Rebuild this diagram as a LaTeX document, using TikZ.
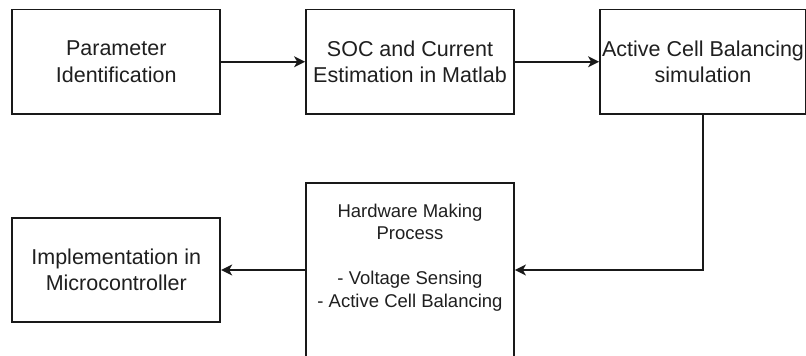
\documentclass[tikz,border=0pt]{standalone}
\usepackage{fontspec}
\setmainfont{Liberation Sans}
\usetikzlibrary{calc, positioning}
\usetikzlibrary{arrows.meta}

\begin{document}
\begin{tikzpicture}[x=1pt,y=-1pt,
  stagebox/.style={draw=black!90, line width=1.8pt, fill=white, align=center,
    minimum width=208pt, minimum height=104.5pt, inner sep=0pt,
    text=black!88, font=\fontsize{21.5}{26.5}\selectfont},
  hwbox/.style={stagebox, minimum height=174pt, font=\fontsize{18.5}{22.5}\selectfont},
  link/.style={draw=black!90, line width=1.7pt,
    -{Stealth[length=11pt, width=11pt, inset=3pt]}}]
\def\toprow{61.75}
\def\lowrow{270}

\useasboundingbox (0,0) rectangle (806,356);

\node[stagebox] (param) at (116.25,\toprow) {Parameter\\Identification};
\node[stagebox] (soc) at (410,\toprow) {SOC and Current\\Estimation in Matlab};
\node[stagebox, minimum width=206pt] (acb) at (703,\toprow) {Active Cell Balancing\\simulation};
\node[hwbox] (hw) at (410,\lowrow)
  {Hardware Making\\Process\\ \strut\\- Voltage Sensing\\- Active Cell Balancing\\ \strut};
\node[stagebox, minimum height=104pt] (impl) at (116.25,\lowrow) {Implementation in\\Microcontroller};

\draw[link] (param) -- (soc);
\draw[link] (soc) -- (acb);
\draw[link] (acb.south) |- (hw.east);
\draw[link] (hw) -- (impl);
\end{tikzpicture}
\end{document}
